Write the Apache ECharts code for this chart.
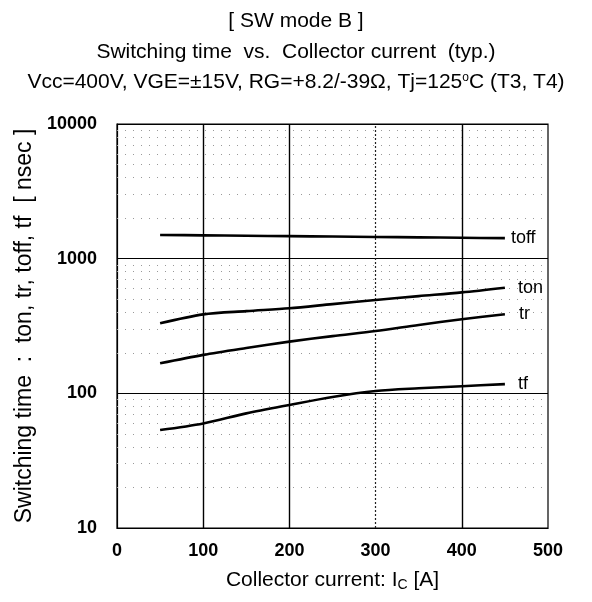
<!DOCTYPE html>
<html>
<head>
<meta charset="utf-8">
<script src="https://cdn.jsdelivr.net/npm/echarts@6/dist/echarts.min.js"></script>
<style>
  html, body { margin: 0; padding: 0; background: #fff; }
  #chart { width: 592px; height: 602px; }
</style>
</head>
<body>
<div id="chart"></div>
<script>
// Collector current samples [A]
const current = [50, 100, 150, 200, 250, 300, 350, 400, 450];
// Switching times [nsec]
const toff = [1500, 1490, 1480, 1470, 1460, 1450, 1440, 1430, 1420];
const ton  = [331, 386, 408, 428, 460, 493, 527, 562, 609];
const tr   = [167, 193, 217, 242, 266, 290, 322, 355, 387];
const tf   = [53.4, 59.8, 71, 82, 94, 104, 109, 113, 117];

// Axis ticks
const xTicks = [0, 100, 200, 300, 400, 500];
const yTicks = [10, 100, 1000, 10000];
// Grid lines
const xSolidLines = [100, 200, 400];
const xDottedLines = [300];
const yMinorLines = [20, 30, 40, 50, 60, 70, 80, 90,
                     200, 300, 400, 500, 600, 700, 800, 900,
                     2000, 3000, 4000, 5000, 6000, 7000, 8000, 9000];

const FONT = '"Liberation Sans", Arial, sans-serif';

function pairs(ys) { return current.map((x, i) => [x, ys[i]]); }

function curve(name, ys, dist) {
  return {
    name: name, type: 'line', smooth: 0.3, symbol: 'none', silent: true,
    data: pairs(ys),
    lineStyle: { color: '#000', width: 2.6 },
    endLabel: {
      show: true, formatter: '{a}', distance: dist,
      color: '#000', fontFamily: FONT, fontSize: 18
    },
    z: 5
  };
}

const titleStyle = { fontFamily: FONT, fontSize: 21, fontWeight: 'normal', color: '#000' };

const chart = echarts.init(document.getElementById('chart'), null, { renderer: 'canvas' });
chart.setOption({
  animation: false,
  backgroundColor: '#fff',
  title: [
    { text: '[ SW mode B ]', left: 'center', top: 6, textStyle: titleStyle },
    { text: 'Switching time  vs.  Collector current  (typ.)', left: 'center', top: 37, textStyle: titleStyle },
    { text: 'Vcc=400V, VGE=±15V, RG=+8.2/-39Ω, Tj=125{sup|o}C (T3, T4)', left: 'center', top: 67,
      textStyle: Object.assign({}, titleStyle, {
        rich: { sup: { fontFamily: FONT, fontSize: 12, color: '#000', verticalAlign: 'top', padding: [0, 0, 9, 0] } } }) }
  ],
  grid: { left: 117, right: 44, top: 124, bottom: 74, show: true, borderColor: '#000', borderWidth: 1.2 },
  xAxis: {
    type: 'value', min: xTicks[0], max: xTicks[xTicks.length - 1], interval: 100,
    axisLine: { show: true, lineStyle: { color: '#000', width: 1.2 } },
    axisTick: { show: false },
    splitLine: { show: false },
    axisLabel: { color: '#000', fontFamily: FONT, fontSize: 18, fontWeight: 'bold', margin: 14,
      customValues: xTicks },
    name: 'Collector current: I{sub|C} [A]',
    nameLocation: 'middle', nameGap: 40,
    nameTextStyle: { color: '#000', fontFamily: FONT, fontSize: 21,
      rich: { sub: { fontFamily: FONT, fontSize: 14, color: '#000', padding: [10, 0, 0, 0] } } }
  },
  yAxis: {
    type: 'log', logBase: 10, min: yTicks[0], max: yTicks[yTicks.length - 1],
    axisLine: { show: true, lineStyle: { color: '#000', width: 1.2 } },
    axisTick: { show: false },
    splitLine: { show: true, lineStyle: { color: '#000', width: 1.2 } },
    axisLabel: { color: '#000', fontFamily: FONT, fontSize: 18, fontWeight: 'bold', margin: 20,
      formatter: v => String(v) },
    name: 'Switching time  :  ton, tr, toff, tf  [ nsec ]',
    nameLocation: 'middle', nameGap: 70, nameRotate: 90,
    nameTextStyle: { color: '#000', fontFamily: FONT, fontSize: 23 }
  },
  series: [
    {
      name: 'grid', type: 'line', data: [], silent: true, z: 1,
      markLine: {
        silent: true, symbol: 'none', label: { show: false }, animation: false,
        data: [
          ...xSolidLines.map(v => ({ xAxis: v, lineStyle: { color: '#000', width: 1.4, type: 'solid' } })),
          ...xDottedLines.map(v => ({ xAxis: v, lineStyle: { color: '#222', width: 1.2, type: [2, 2] } })),
          ...yMinorLines.map(v => ({ yAxis: v, lineStyle: { color: '#999', width: 1, type: [1, 7] } }))
        ]
      }
    },
    curve('toff', toff, 6),
    curve('ton', ton, 13),
    curve('tr', tr, 14),
    curve('tf', tf, 13)
  ]
});
</script>
</body>
</html>
